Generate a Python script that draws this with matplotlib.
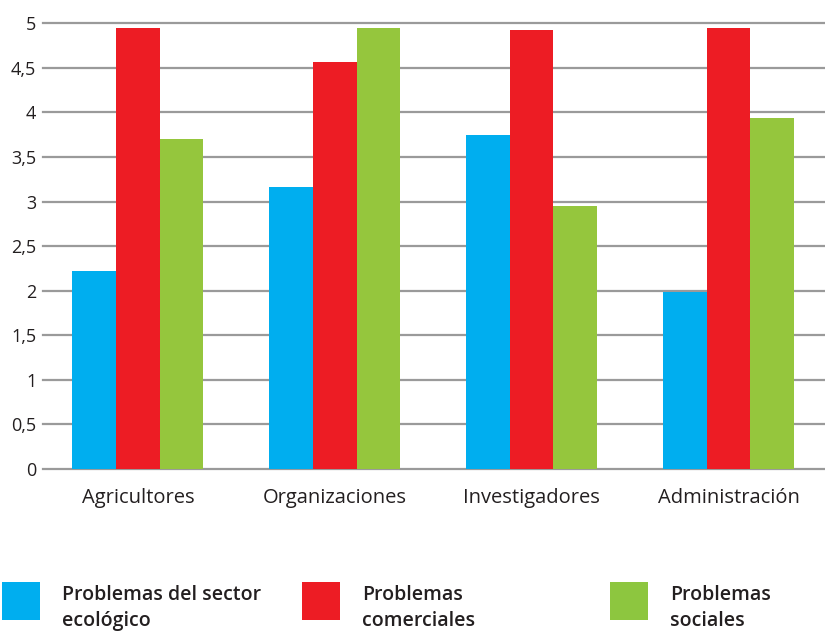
import matplotlib
matplotlib.use("Agg")
import matplotlib.pyplot as plt
import numpy as np
from matplotlib.patches import Rectangle

categories = ["Agricultores", "Organizaciones", "Investigadores", "Administración"]
series_labels = ["Problemas del sector\necológico", "Problemas\ncomerciales", "Problemas\nsociales"]
ecologico = [2.22, 3.16, 3.75, 1.99]
comerciales = [4.95, 4.57, 4.93, 4.95]
sociales = [3.70, 4.95, 2.95, 3.94]
yticks = [0, 0.5, 1, 1.5, 2, 2.5, 3, 3.5, 4, 4.5, 5]
ytick_labels = ["0", "0,5", "1", "1,5", "2", "2,5", "3", "3,5", "4", "4,5", "5"]

colors = ["#00AEEF", "#ED1C24", "#95C63D"]
legend_colors = ["#00AEEF", "#ED1C24", "#8DC63F"]
text_color = "#231F20"

plt.rcParams['font.family'] = ['Open Sans', 'DejaVu Sans']

fig = plt.figure(figsize=(8.25, 6.36), dpi=100)
ax = fig.add_axes([0.0525, 0.2626, 0.9475, 0.7008])

x = np.arange(len(categories))
w = 0.222
for i, vals in enumerate([ecologico, comerciales, sociales]):
    ax.bar(x + (i - 1) * w, vals, width=w, color=colors[i], zorder=3, linewidth=0)

ax.set_xlim(-0.48, 3.49)
ax.set_ylim(0, 5)
ax.set_yticks(yticks)
ax.set_yticklabels(ytick_labels, fontsize=13, color=text_color)
ax.set_xticks(x)
ax.set_xticklabels(categories, fontsize=14.5, color=text_color)
ax.tick_params(axis='y', length=0, pad=5)
ax.tick_params(axis='x', length=0, pad=14)
for s in ax.spines.values():
    s.set_visible(False)
for t in yticks:
    ax.axhline(t, color="#9A9A9A", linewidth=1.6, zorder=1, clip_on=False)

# legend
x_pos = [2, 302, 610]
for i, lab in enumerate(series_labels):
    x0 = x_pos[i] / 825
    fig.patches.append(Rectangle((x0, 1 - 620 / 636), 38 / 825, 38 / 636,
                                 transform=fig.transFigure, color=legend_colors[i], linewidth=0))
    fig.text(x0 + 60 / 825, 1 - 585 / 636, lab, fontsize=14, fontweight='semibold',
             color=text_color, va='top', ha='left', linespacing=1.38)

fig.savefig("out.png", dpi=100)
